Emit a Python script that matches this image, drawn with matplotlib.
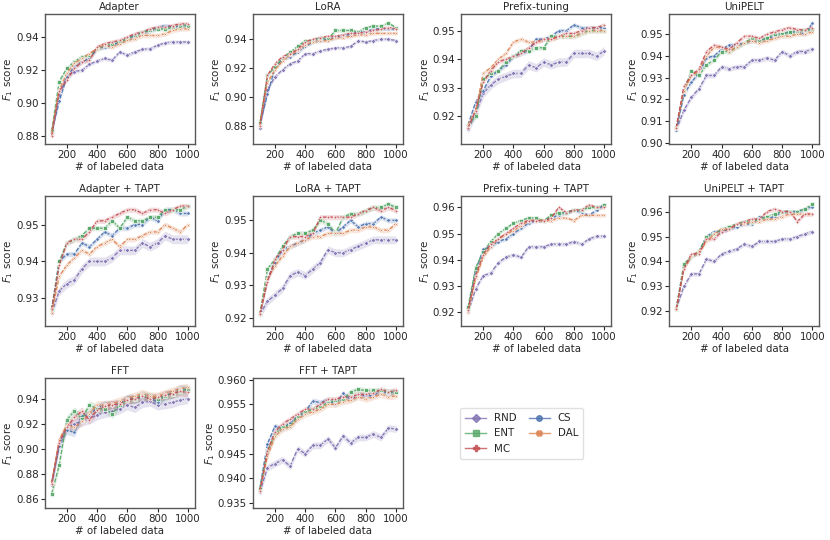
import numpy as np
import matplotlib
matplotlib.use('Agg')
import matplotlib.pyplot as plt
from matplotlib.lines import Line2D
from matplotlib.ticker import MultipleLocator

# number of labeled samples (x axis)
n_labeled = list(range(100, 1001, 50))

methods = ['RND', 'CS', 'ENT', 'DAL', 'MC']
legend_order = ['RND', 'ENT', 'MC', 'CS', 'DAL']
colors = {'CS': '#4C72B0', 'DAL': '#DD8452', 'ENT': '#55A868', 'MC': '#C44E52', 'RND': '#8172B3'}
markers = {'CS': 'o', 'DAL': 'X', 'ENT': 's', 'MC': 'P', 'RND': 'D'}

adapter = {
    'RND': [0.881, 0.905, 0.916, 0.919, 0.920, 0.9235, 0.9255, 0.927, 0.926, 0.931, 0.929, 0.931, 0.9325, 0.933, 0.935, 0.9365, 0.937, 0.937, 0.937],
    'CS':  [0.882, 0.901, 0.916, 0.922, 0.925, 0.927, 0.933, 0.934, 0.935, 0.937, 0.939, 0.941, 0.943, 0.944, 0.946, 0.947, 0.946, 0.947, 0.947],
    'ENT': [0.883, 0.913, 0.921, 0.925, 0.928, 0.929, 0.933, 0.935, 0.936, 0.937, 0.939, 0.941, 0.943, 0.944, 0.945, 0.945, 0.946, 0.947, 0.947],
    'DAL': [0.882, 0.908, 0.918, 0.924, 0.927, 0.930, 0.933, 0.935, 0.934, 0.936, 0.938, 0.939, 0.941, 0.941, 0.941, 0.942, 0.944, 0.945, 0.945],
    'MC':  [0.880, 0.907, 0.914, 0.921, 0.925, 0.926, 0.934, 0.936, 0.937, 0.938, 0.940, 0.942, 0.943, 0.945, 0.946, 0.946, 0.947, 0.948, 0.948],
}
lora = {
    'RND': [0.879, 0.905, 0.914, 0.919, 0.923, 0.925, 0.930, 0.930, 0.932, 0.933, 0.934, 0.934, 0.935, 0.939, 0.938, 0.939, 0.940, 0.940, 0.939],
    'CS':  [0.881, 0.902, 0.920, 0.926, 0.928, 0.931, 0.935, 0.938, 0.939, 0.940, 0.941, 0.943, 0.943, 0.945, 0.945, 0.947, 0.947, 0.947, 0.947],
    'ENT': [0.882, 0.915, 0.921, 0.927, 0.931, 0.935, 0.939, 0.939, 0.941, 0.940, 0.946, 0.946, 0.946, 0.945, 0.948, 0.949, 0.949, 0.951, 0.948],
    'DAL': [0.881, 0.910, 0.919, 0.925, 0.929, 0.932, 0.936, 0.938, 0.939, 0.939, 0.941, 0.941, 0.942, 0.943, 0.943, 0.944, 0.944, 0.944, 0.944],
    'MC':  [0.880, 0.915, 0.923, 0.928, 0.930, 0.933, 0.938, 0.940, 0.941, 0.942, 0.942, 0.943, 0.944, 0.944, 0.945, 0.946, 0.947, 0.948, 0.947],
}
prefix = {
    'RND': [0.9155, 0.921, 0.928, 0.931, 0.933, 0.934, 0.935, 0.935, 0.938, 0.937, 0.939, 0.938, 0.939, 0.939, 0.942, 0.942, 0.942, 0.941, 0.943],
    'CS':  [0.917, 0.925, 0.929, 0.934, 0.936, 0.938, 0.941, 0.942, 0.943, 0.947, 0.947, 0.948, 0.950, 0.950, 0.952, 0.951, 0.951, 0.951, 0.951],
    'ENT': [0.917, 0.920, 0.933, 0.935, 0.936, 0.939, 0.941, 0.943, 0.943, 0.944, 0.944, 0.948, 0.948, 0.948, 0.948, 0.949, 0.950, 0.950, 0.950],
    'DAL': [0.917, 0.922, 0.935, 0.937, 0.940, 0.942, 0.946, 0.947, 0.946, 0.946, 0.947, 0.947, 0.948, 0.948, 0.948, 0.949, 0.950, 0.950, 0.950],
    'MC':  [0.916, 0.922, 0.932, 0.936, 0.939, 0.940, 0.941, 0.942, 0.944, 0.946, 0.947, 0.947, 0.948, 0.949, 0.949, 0.950, 0.951, 0.951, 0.952],
}
unipelt = {
    'RND': [0.906, 0.915, 0.921, 0.925, 0.931, 0.931, 0.935, 0.934, 0.935, 0.935, 0.938, 0.938, 0.939, 0.938, 0.942, 0.940, 0.942, 0.942, 0.943],
    'CS':  [0.906, 0.922, 0.928, 0.932, 0.939, 0.940, 0.943, 0.945, 0.945, 0.946, 0.947, 0.947, 0.948, 0.949, 0.950, 0.951, 0.951, 0.950, 0.955],
    'ENT': [0.907, 0.924, 0.933, 0.931, 0.936, 0.938, 0.942, 0.942, 0.944, 0.946, 0.948, 0.947, 0.948, 0.950, 0.950, 0.951, 0.951, 0.952, 0.952],
    'DAL': [0.907, 0.924, 0.931, 0.933, 0.940, 0.944, 0.944, 0.942, 0.944, 0.946, 0.947, 0.946, 0.947, 0.948, 0.949, 0.949, 0.950, 0.950, 0.951],
    'MC':  [0.907, 0.926, 0.931, 0.934, 0.942, 0.945, 0.944, 0.943, 0.946, 0.949, 0.949, 0.948, 0.950, 0.951, 0.952, 0.953, 0.952, 0.952, 0.953],
}
adapter_tapt = {
    'RND': [0.926, 0.932, 0.934, 0.935, 0.938, 0.940, 0.940, 0.940, 0.941, 0.943, 0.943, 0.943, 0.945, 0.944, 0.945, 0.947, 0.946, 0.946, 0.946],
    'CS':  [0.927, 0.940, 0.942, 0.942, 0.945, 0.944, 0.946, 0.948, 0.947, 0.949, 0.949, 0.950, 0.950, 0.952, 0.951, 0.954, 0.954, 0.953, 0.953],
    'ENT': [0.927, 0.940, 0.945, 0.946, 0.947, 0.949, 0.949, 0.949, 0.951, 0.949, 0.952, 0.951, 0.951, 0.952, 0.952, 0.954, 0.954, 0.954, 0.955],
    'DAL': [0.926, 0.936, 0.939, 0.941, 0.943, 0.942, 0.944, 0.945, 0.946, 0.944, 0.946, 0.946, 0.947, 0.948, 0.948, 0.950, 0.949, 0.948, 0.950],
    'MC':  [0.927, 0.939, 0.945, 0.946, 0.946, 0.948, 0.951, 0.951, 0.952, 0.953, 0.954, 0.954, 0.953, 0.954, 0.954, 0.953, 0.954, 0.955, 0.955],
}
lora_tapt = {
    'RND': [0.921, 0.925, 0.927, 0.929, 0.933, 0.934, 0.933, 0.935, 0.937, 0.941, 0.940, 0.940, 0.941, 0.942, 0.943, 0.944, 0.944, 0.944, 0.944],
    'CS':  [0.921, 0.932, 0.937, 0.941, 0.942, 0.943, 0.944, 0.946, 0.947, 0.948, 0.946, 0.948, 0.950, 0.948, 0.949, 0.949, 0.951, 0.950, 0.950],
    'ENT': [0.921, 0.935, 0.938, 0.942, 0.945, 0.946, 0.946, 0.947, 0.950, 0.949, 0.946, 0.951, 0.952, 0.952, 0.953, 0.954, 0.954, 0.955, 0.954],
    'DAL': [0.921, 0.932, 0.936, 0.939, 0.942, 0.943, 0.944, 0.945, 0.945, 0.946, 0.946, 0.946, 0.947, 0.947, 0.948, 0.948, 0.947, 0.947, 0.949],
    'MC':  [0.921, 0.931, 0.938, 0.941, 0.945, 0.945, 0.945, 0.946, 0.951, 0.951, 0.951, 0.951, 0.951, 0.952, 0.953, 0.954, 0.953, 0.954, 0.953],
}
prefix_tapt = {
    'RND': [0.920, 0.929, 0.934, 0.935, 0.939, 0.941, 0.942, 0.941, 0.945, 0.945, 0.945, 0.946, 0.946, 0.946, 0.947, 0.946, 0.948, 0.949, 0.949],
    'CS':  [0.921, 0.936, 0.944, 0.945, 0.947, 0.948, 0.950, 0.952, 0.954, 0.955, 0.955, 0.956, 0.957, 0.958, 0.959, 0.958, 0.957, 0.959, 0.961],
    'ENT': [0.922, 0.937, 0.943, 0.947, 0.950, 0.952, 0.954, 0.955, 0.956, 0.956, 0.955, 0.957, 0.958, 0.958, 0.959, 0.959, 0.960, 0.960, 0.961],
    'DAL': [0.920, 0.933, 0.941, 0.945, 0.948, 0.950, 0.951, 0.953, 0.955, 0.955, 0.955, 0.955, 0.956, 0.956, 0.955, 0.957, 0.957, 0.957, 0.957],
    'MC':  [0.921, 0.934, 0.942, 0.946, 0.948, 0.950, 0.952, 0.954, 0.955, 0.955, 0.955, 0.956, 0.960, 0.958, 0.959, 0.959, 0.961, 0.960, 0.960],
}
unipelt_tapt = {
    'RND': [0.921, 0.930, 0.935, 0.935, 0.941, 0.940, 0.943, 0.944, 0.945, 0.947, 0.946, 0.948, 0.948, 0.948, 0.949, 0.949, 0.950, 0.951, 0.952],
    'CS':  [0.921, 0.938, 0.942, 0.944, 0.950, 0.952, 0.952, 0.953, 0.954, 0.955, 0.955, 0.958, 0.957, 0.958, 0.960, 0.960, 0.960, 0.961, 0.962],
    'ENT': [0.921, 0.939, 0.942, 0.944, 0.950, 0.951, 0.953, 0.954, 0.955, 0.956, 0.956, 0.957, 0.958, 0.959, 0.960, 0.960, 0.960, 0.961, 0.963],
    'DAL': [0.921, 0.937, 0.942, 0.944, 0.948, 0.951, 0.953, 0.953, 0.955, 0.955, 0.956, 0.956, 0.957, 0.957, 0.958, 0.959, 0.959, 0.959, 0.959],
    'MC':  [0.921, 0.937, 0.943, 0.943, 0.949, 0.949, 0.952, 0.953, 0.955, 0.956, 0.957, 0.957, 0.960, 0.961, 0.960, 0.960, 0.956, 0.959, 0.959],
}
fft = {
    'RND': [0.871, 0.905, 0.917, 0.920, 0.922, 0.924, 0.927, 0.929, 0.930, 0.932, 0.935, 0.933, 0.937, 0.938, 0.935, 0.936, 0.937, 0.939, 0.940],
    'CS':  [0.873, 0.902, 0.915, 0.913, 0.926, 0.927, 0.933, 0.935, 0.935, 0.936, 0.940, 0.940, 0.941, 0.941, 0.937, 0.943, 0.944, 0.948, 0.947],
    'ENT': [0.864, 0.887, 0.923, 0.930, 0.924, 0.935, 0.932, 0.932, 0.928, 0.935, 0.939, 0.940, 0.943, 0.941, 0.940, 0.942, 0.944, 0.946, 0.948],
    'DAL': [0.873, 0.907, 0.919, 0.917, 0.922, 0.928, 0.935, 0.935, 0.936, 0.938, 0.940, 0.942, 0.944, 0.942, 0.942, 0.944, 0.946, 0.948, 0.949],
    'MC':  [0.872, 0.905, 0.917, 0.925, 0.930, 0.923, 0.931, 0.934, 0.935, 0.936, 0.939, 0.940, 0.942, 0.940, 0.941, 0.943, 0.944, 0.946, 0.945],
}
fft_tapt = {
    'RND': [0.9372, 0.9422, 0.9430, 0.9438, 0.9425, 0.9460, 0.9450, 0.9467, 0.9467, 0.9480, 0.9462, 0.9486, 0.9472, 0.9483, 0.9483, 0.9490, 0.9483, 0.9502, 0.9500],
    'CS':  [0.9380, 0.9470, 0.9506, 0.9500, 0.9513, 0.9525, 0.9535, 0.9557, 0.9553, 0.9560, 0.9550, 0.9572, 0.9560, 0.9568, 0.9568, 0.9567, 0.9578, 0.9572, 0.9577],
    'ENT': [0.9378, 0.9455, 0.9490, 0.9505, 0.9507, 0.9525, 0.9535, 0.9540, 0.9545, 0.9553, 0.9558, 0.9558, 0.9575, 0.9580, 0.9578, 0.9578, 0.9578, 0.9575, 0.9575],
    'DAL': [0.9375, 0.9445, 0.9485, 0.9500, 0.9505, 0.9520, 0.9530, 0.9535, 0.9540, 0.9550, 0.9550, 0.9555, 0.9558, 0.9565, 0.9560, 0.9565, 0.9570, 0.9565, 0.9567],
    'MC':  [0.9375, 0.9455, 0.9495, 0.9510, 0.9520, 0.9530, 0.9540, 0.9540, 0.9550, 0.9560, 0.9560, 0.9565, 0.9565, 0.9570, 0.9570, 0.9572, 0.9580, 0.9575, 0.9578],
}

titles = ['Adapter', 'LoRA', 'Prefix-tuning', 'UniPELT',
          'Adapter + TAPT', 'LoRA + TAPT', 'Prefix-tuning + TAPT', 'UniPELT + TAPT',
          'FFT', 'FFT + TAPT']
panels = [adapter, lora, prefix, unipelt, adapter_tapt, lora_tapt, prefix_tapt, unipelt_tapt, fft, fft_tapt]
# half-width of the shaded band: (RND, others)
spreads = [(0.0012, 0.0014), (0.0012, 0.0012), (0.0015, 0.0008), (0.0012, 0.0010),
           (0.0012, 0.0007), (0.0012, 0.0008), (0.0008, 0.0007), (0.0009, 0.0008),
           (0.0040, 0.0035), (0.0007, 0.0006)]
ylims = [(0.875, 0.954), (0.8677, 0.9573), (0.9103, 0.9558), (0.8995, 0.9592),
         (0.9225, 0.9577), (0.9174, 0.9575), (0.9148, 0.9643), (0.9141, 0.9662),
         (0.8525, 0.9565), (0.934, 0.9603)]
ysteps = [0.02, 0.02, 0.01, 0.01, 0.01, 0.01, 0.01, 0.01, 0.02, 0.005]

plt.rcParams.update({
    'font.size': 7.4,
    'text.color': '.15',
    'axes.labelcolor': '.15',
    'xtick.color': '.15',
    'ytick.color': '.15',
    'axes.edgecolor': '.35',
    'axes.linewidth': 1.0,
})

fig, axes = plt.subplots(3, 4, figsize=(8.3, 5.4), dpi=100)
fig.subplots_adjust(left=0.054, right=0.987, top=0.974, bottom=0.059, wspace=0.39, hspace=0.40)

x = np.array(n_labeled)
for k, (title, data) in enumerate(zip(titles, panels)):
    ax = axes.flat[k]
    for m in methods:
        y = np.array(data[m])
        s = spreads[k][0] if m == 'RND' else spreads[k][1]
        ax.fill_between(x, y - s, y + s, color=colors[m], alpha=0.2, lw=0)
        ax.plot(x, y, color=colors[m], lw=1.0, linestyle=(0, (3, 1.2)),
                marker=markers[m], ms=2.5, mew=0.5, mec='white', alpha=0.9)
    ax.set_title(title, fontsize=7.4, pad=3)
    ax.set_xlabel('# of labeled data', labelpad=1)
    ax.set_ylabel('$F_1$ score', labelpad=0.5)
    ax.set_ylim(*ylims[k])
    ax.set_xlim(55, 1045)
    ax.xaxis.set_major_locator(MultipleLocator(200))
    ax.yaxis.set_major_locator(MultipleLocator(ysteps[k]))
    ax.tick_params(length=3, width=0.8, pad=1.5)

axes[2, 2].axis('off')
axes[2, 3].axis('off')

handles = [Line2D([0], [0], color=colors[m], lw=1.0, marker=markers[m], ms=4, alpha=0.8)
           for m in legend_order]
fig.legend(handles, legend_order, loc='upper left', bbox_to_anchor=(455 / 830, 1 - 403 / 540),
           ncol=2, frameon=True, fontsize=7.4, handlelength=2.0, columnspacing=1.2,
           edgecolor='0.85', borderpad=0.5)

fig.savefig('out.png', dpi=100)
